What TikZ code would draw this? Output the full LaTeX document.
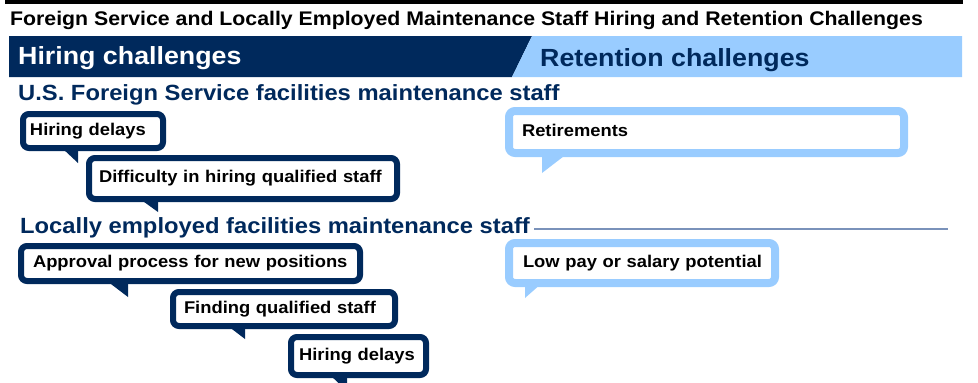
\documentclass[tikz,border=0pt]{standalone}
\usepackage{fontspec}
\setmainfont{Liberation Sans}[FakeStretch=1.08]
\usetikzlibrary{calc}
\definecolor{navy}{RGB}{0,41,92}
\definecolor{lblue}{RGB}{153,204,255}
\definecolor{rulecol}{RGB}{122,146,186}
\tikzset{
  bubble/.style={draw=navy, line width=6pt, fill=white, rounded corners=6pt, outer sep=0pt,
    align=left, anchor=center, font=\fontsize{17}{20}\selectfont\bfseries, text=black,
    text height=12.3pt, text depth=3.5pt, inner ysep=0pt},
  lbubble/.style={bubble, draw=lblue, line width=8pt},
  tailn/.style={fill=navy},
  taill/.style={fill=lblue},
  heading/.style={anchor=base west, inner sep=0pt, font=\fontsize{22}{26}\selectfont\bfseries, text=navy},
  band/.style={anchor=base west, inner sep=0pt, font=\fontsize{24.8}{28}\selectfont\bfseries},
}
\begin{document}
\begin{tikzpicture}[x=1pt,y=-1pt]
\useasboundingbox (0,0) rectangle (978,383);
\begin{scope}
\clip (0,0) rectangle (978,383);
% top rule
\fill[black] (5,0) rectangle (963,4);
\node[anchor=base west, inner sep=0pt, font=\fontsize{19.7}{22}\selectfont\bfseries] (title) at (10,25.5)
  {Foreign Service and Locally Employed Maintenance Staff Hiring and Retention Challenges};
% header band
\fill[navy] (9,36) -- (532,36) -- (512,77) -- (9,77) -- cycle;
\fill[lblue] (532,36) -- (962,36) -- (962,77) -- (512,77) -- cycle;
\node[band, text=white] (hire) at (18,64) {Hiring challenges};
\node[band, text=navy] (ret) at (540,66) {Retention challenges};
% section 1
\node[heading] (sec1) at (18,100) {U.S. Foreign Service facilities maintenance staff};
\node[bubble, minimum width=140pt, minimum height=34pt, inner xsep=7pt, text width=126pt] (hd1) at (93,131) {\mbox{Hiring delays}};
\fill[tailn] ($(hd1.south west)+(39,0)$) -- ($(hd1.south west)+(55,0)$) -- ($(hd1.south west)+(55,15)$) -- cycle;
\node[bubble, minimum width=308pt, minimum height=41pt, inner xsep=10pt, text width=288pt] (diff) at (243,178.5) {\mbox{Difficulty in hiring qualified staff}};
\fill[tailn] ($(diff.south west)+(51,0)$) -- ($(diff.south west)+(69,0)$) -- ($(diff.south west)+(69,13)$) -- cycle;
\node[lbubble, minimum width=395pt, minimum height=42pt, inner xsep=13pt, text width=369pt] (retire) at (706.5,132) {\mbox{Retirements}};
\fill[taill] ($(retire.south west)+(33,0)$) -- ($(retire.south west)+(59,0)$) -- ($(retire.south west)+(33,20)$) -- cycle;
% section 2
\node[heading] (sec2) at (20,233.5) {Locally employed facilities maintenance staff};
\coordinate (ruleend) at (948,229);
\draw[rulecol, line width=1.5pt] ($(sec2.base east)+(4,-4.5)$) -- (ruleend);
\node[bubble, minimum width=339pt, minimum height=35pt, inner xsep=12pt, text width=315pt] (appr) at (190.5,263.5) {\mbox{Approval process for new positions}};
\fill[tailn] ($(appr.south west)+(86,0)$) -- ($(appr.south west)+(107,0)$) -- ($(appr.south west)+(107,16)$) -- cycle;
\node[bubble, minimum width=222pt, minimum height=34pt, inner xsep=11pt, text width=200pt] (find) at (284,309) {\mbox{Finding qualified staff}};
\fill[tailn] ($(find.south west)+(55,0)$) -- ($(find.south west)+(72,0)$) -- ($(find.south west)+(72,13)$) -- cycle;
\node[bubble, minimum width=135pt, minimum height=38pt, inner xsep=8pt, text width=119pt] (hd2) at (358.5,356) {\mbox{Hiring delays}};
\fill[tailn] ($(hd2.south west)+(39,0)$) -- ($(hd2.south west)+(56,0)$) -- ($(hd2.south west)+(56,16)$) -- cycle;
\node[lbubble, minimum width=266pt, minimum height=40pt, inner xsep=14pt, text width=238pt] (low) at (642,263) {\mbox{Low pay or salary potential}};
\fill[taill] ($(low.south west)+(16,0)$) -- ($(low.south west)+(33,0)$) -- ($(low.south west)+(16,15)$) -- cycle;
\end{scope}
\end{tikzpicture}
\end{document}
